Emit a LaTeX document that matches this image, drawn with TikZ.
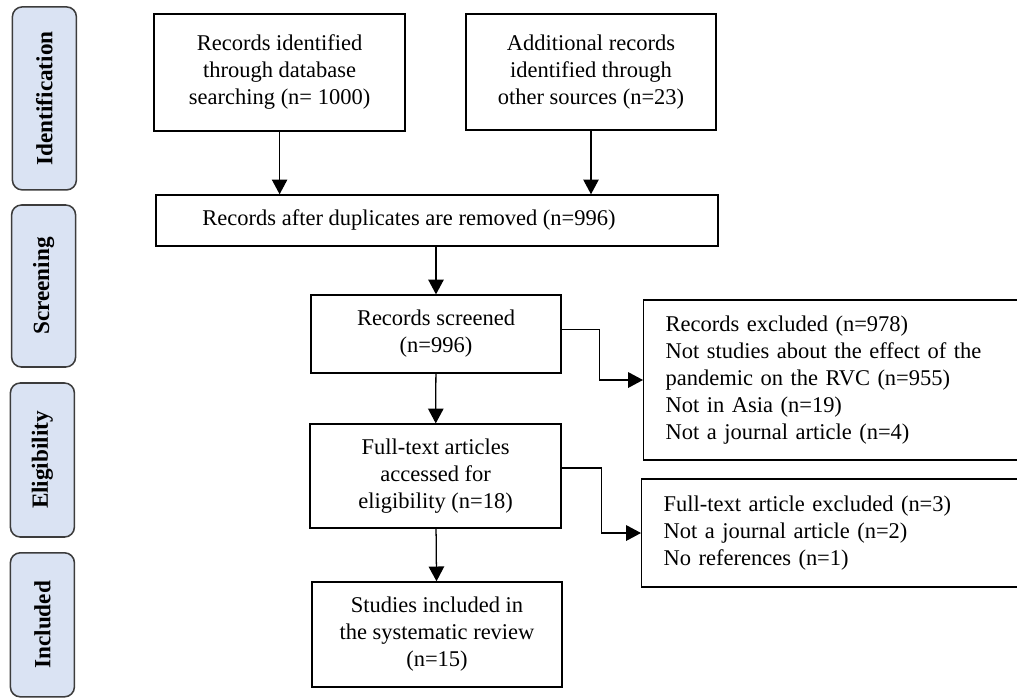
\documentclass[tikz,border=0pt]{standalone}
\usepackage{fontspec}
\setmainfont{Liberation Serif}
\usetikzlibrary{calc,arrows.meta}
\definecolor{phasefill}{RGB}{218,227,243}
\definecolor{phaseline}{RGB}{60,60,60}

\begin{document}
\begin{tikzpicture}[x=1cm,y=1cm,
  box/.style={draw,line width=0.9pt,align=center,inner sep=2pt,
    font=\fontsize{16}{19.2}\selectfont},
  exbox/.style={draw,line width=0.9pt,align=left,anchor=west,text width=11cm,
    inner xsep=0.55cm,font=\fontsize{16}{19.2}\selectfont},
  phase/.style={draw=phaseline,fill=phasefill,line width=1.1pt,rounded corners=7pt,
    rotate=90,minimum height=1.6cm,font=\fontsize{16.5}{19}\selectfont\bfseries},
  arr/.style={line width=0.9pt,-{Triangle[length=10.5pt,width=11pt]}}]
  \clip (0,0) rectangle (25.425,-17.425);
  % phase labels on the left
  \node[phase,minimum width=4.575cm] (pid) at (1.11,-2.46) {Identification};
  \node[phase,minimum width=4.05cm] (pscr) at (1.09,-7.15) {Screening};
  \node[phase,minimum width=3.85cm] (pel) at (1.06,-11.5) {Eligibility};
  \node[phase,minimum width=3.6cm] (pinc) at (1.06,-15.62) {Included};
  % main flow
  \node[box,minimum width=6.275cm,minimum height=2.925cm] (dbrec) at (6.99,-1.81)
    {Records identified\\through database\\searching (n= 1000)};
  \node[box,minimum width=6.25cm,minimum height=2.9cm] (othrec) at (14.775,-1.80)
    {Additional records\\identified through\\other sources (n=23)};
  \node[box,minimum width=14.05cm,minimum height=1.275cm] (dup) at (10.925,-5.51)
    {Records after duplicates are removed (n=996)\hspace*{1.4cm}};
  \node[box,minimum width=6.25cm,minimum height=1.95cm] (scr) at (10.9,-8.35)
    {Records screened\\(n=996)};
  \node[box,minimum width=6.275cm,minimum height=2.6cm] (full) at (10.89,-11.9)
    {Full-text articles\\accessed for\\eligibility (n=18)};
  \node[box,minimum width=6.25cm,minimum height=2.625cm] (incl) at (10.925,-15.86)
    {Studies included in\\the systematic review\\(n=15)};
  % exclusion boxes
  \node[exbox,minimum height=4.0cm] (exscr) at (16.075,-9.5)
    {Records excluded (n=978)\\Not studies about the effect of the\\pandemic on the RVC (n=955)\\Not in Asia (n=19)\\Not a journal article (n=4)};
  \node[exbox,minimum height=2.7cm] (exfull) at (16.025,-13.325)
    {Full-text article excluded (n=3)\\Not a journal article (n=2)\\No references (n=1)};
  % connectors
  \draw[arr] (dbrec) -- (dbrec |- dup.north);
  \draw[arr] (othrec) -- (othrec |- dup.north);
  \draw[arr] (dup.south -| scr) -- (scr);
  \draw[arr] (scr) -- (full);
  \draw[arr] (full) -- (incl);
  \draw[arr] ($(scr.east)+(0,0.12)$) -- ++(0.95,0) |- (exscr.west);
  \draw[arr] ($(full.east)+(0,0.2)$) -- ++(1.0,0) |- (exfull.west);
\end{tikzpicture}
\end{document}
